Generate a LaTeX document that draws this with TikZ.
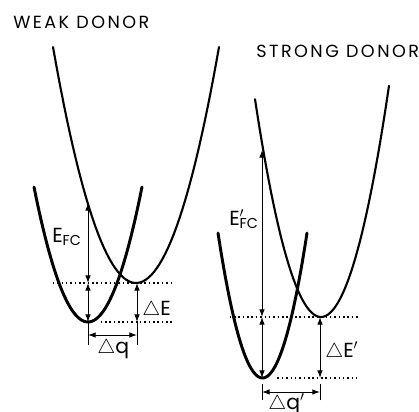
\documentclass[tikz,border=0pt]{standalone}
\usepackage{fontspec}
\setmainfont{Poppins}
\usetikzlibrary{arrows.meta}

\newcommand\fc{\textsubscript{FC}}

\begin{document}
\begin{tikzpicture}[
  x=0.025cm, y=-0.025cm,
  lowerwell/.style={line width=2.1pt, line cap=round},
  upperwell/.style={line width=1.5pt, line cap=round},
  arrow/.style={{Latex[length=5.5pt,width=4pt]}-{Latex[length=5.5pt,width=4pt]}, line width=0.7pt},
  level/.style={line width=1pt, dash pattern=on 1.1pt off 2pt},
  tickmark/.style={line width=0.5pt},
  title/.style={font=\fontsize{12.5}{14}\selectfont\addfontfeature{LetterSpace=14}, inner sep=0pt, anchor=base west},
  tag/.style={font=\fontsize{14.5}{16}\selectfont, inner sep=0pt, anchor=base west},
]
  \useasboundingbox (0,0) rectangle (419,412);

  % Titles
  \node (weak) [title] at (13,29) {WEAK DONOR};
  \node (strong) [title] at (256,58) {STRONG DONOR};

  % Weak donor wells
  \draw [lowerwell] plot[domain=34:142, samples=60] (\x, {322-0.0463*(\x-88)^2});
  \draw [upperwell] plot[domain=53:219, samples=60] (\x, {283-0.03426*(\x-136)^2});

  \coordinate (gminA) at (88,322);
  \coordinate (eminA) at (137,283);
  \coordinate (topA) at (88,203);

  % Strong donor wells
  \draw [lowerwell] plot[domain=218:307, samples=60] (\x, {378-0.0732*(\x-262.5)^2});
  \draw [upperwell] plot[domain=255:389, samples=60] (\x, {317-0.05*(\x-321)^2});

  \coordinate (gminB) at (262,378);
  \coordinate (eminB) at (320,317);
  \coordinate (topB) at (262,150);

  % Levels (dotted)
  \draw [level] ([xshift=-25]gminA |- eminA) -- ([xshift=26]eminA);
  \draw [level] ([xshift=9]gminA) -- ([xshift=26]eminA |- gminA);
  \draw [level] ([xshift=-23]gminB |- eminB) -- ([xshift=28]eminB);
  \draw [level] ([xshift=11]gminB) -- ([xshift=28]eminB |- gminB);

  % Energy arrows
  \draw [arrow] (topA) -- (gminA |- eminA);
  \draw [arrow] (gminA |- eminA) -- (gminA);
  \draw [arrow] (eminA) -- (eminA |- gminA);
  \draw [arrow] (topB) -- (gminB |- eminB);
  \draw [arrow] (gminB |- eminB) -- (gminB);
  \draw [arrow] (eminB) -- (eminB |- gminB);

  % Displacement arrows
  \coordinate (dqA) at (88,335);
  \coordinate (dqB) at (262,392);
  \draw [tickmark] ([yshift=-7]dqA) -- ([yshift=10]dqA);
  \draw [tickmark] ([yshift=-7]eminA |- dqA) -- ([yshift=10]eminA |- dqA);
  \draw [arrow] (dqA) -- (eminA |- dqA);
  \draw [tickmark] ([yshift=-6]dqB) -- ([yshift=6]dqB);
  \draw [tickmark] ([yshift=-6]eminB |- dqB) -- ([yshift=6]eminB |- dqB);
  \draw [arrow] (dqB) -- (eminB |- dqB);

  % Labels
  \node (efcA) [tag] at (52,242) {E\fc};
  \node (deA) [tag] at (142,315) {$\triangle$E};
  \node (dqAlabel) [tag] at (97,353) {$\triangle$q};
  \node (efcB) [tag] at (229,225) {E\rlap{$'$}\fc};
  \node (deB) [tag] at (325,357) {$\triangle$E$'$};
  \node (dqBlabel) [tag] at (268,409) {$\triangle$q$'$};

\end{tikzpicture}
\end{document}
